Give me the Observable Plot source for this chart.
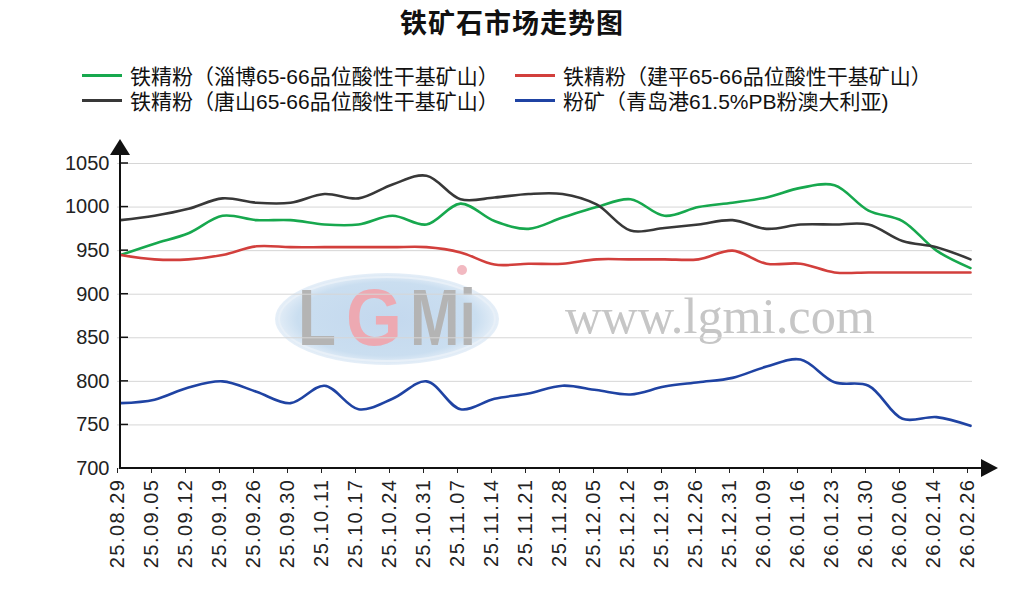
<!DOCTYPE html>
<html><head><meta charset="utf-8">
<script src="https://cdn.jsdelivr.net/npm/d3@7"></script>
<script src="https://cdn.jsdelivr.net/npm/@observablehq/plot@0.6"></script>
<style>
body{margin:0;background:#fff;}
#wrap{position:relative;width:1024px;height:608px;overflow:hidden;background:#fff;font-family:"Liberation Sans",Arial,"Noto Sans CJK SC",sans-serif;}
#head{position:relative;width:1024px;height:130px;}
#title{position:absolute;left:0;width:1024px;top:6px;text-align:center;font-weight:bold;font-size:27px;font-family:"Noto Sans CJK SC",sans-serif;color:#111;line-height:32px;letter-spacing:1px;}
.lg{position:absolute;display:flex;align-items:center;height:24px;font-size:21px;color:#111;white-space:nowrap;font-family:"Liberation Sans",Arial,"Noto Sans CJK SC",sans-serif;}
.sw{width:40px;height:3px;margin-right:8px;}
#chart svg{display:block;}
</style></head>
<body><div id="wrap"><div id="head"><div id="title">铁矿石市场走势图</div><div id="legend"></div></div><div id="chart"></div></div>
<script>
const dates = ["25.08.29","25.09.05","25.09.12","25.09.19","25.09.26","25.09.30","25.10.11","25.10.17","25.10.24","25.10.31","25.11.07","25.11.14","25.11.21","25.11.28","25.12.05","25.12.12","25.12.19","25.12.26","25.12.31","26.01.09","26.01.16","26.01.23","26.01.30","26.02.06","26.02.14","26.02.26"];
const seriesNames = ["铁精粉（淄博65-66品位酸性干基矿山）","铁精粉（建平65-66品位酸性干基矿山）","铁精粉（唐山65-66品位酸性干基矿山）","粉矿（青岛港61.5%PB粉澳大利亚)"];
const seriesColors = ["#17a84e","#d23f3c","#383838","#1f43a3"];
const zibo =     [945,958,970,990,985,985,980,980,990,980,1004,984,975,988,1000,1009,990,1000,1005,1011,1022,1025,996,984,950,930];
const jianping = [945,940,940,945,955,954,954,954,954,954,948,934,935,935,940,940,940,940,950,935,935,925,925,925,925,925];
const tangshan = [985,990,998,1010,1005,1005,1015,1010,1026,1036,1009,1011,1015,1015,1003,973,976,980,985,975,980,980,980,961,954,940];
const qingdao =  [775,779,793,800,788,775,795,768,780,800,768,780,786,795,790,785,794,799,804,817,825,799,795,757,759,749];
const yTicks = [700,750,800,850,900,950,1000,1050];
const seriesValues = [zibo, jianping, tangshan, qingdao];

const data = seriesNames.flatMap((s,k)=>dates.map((d,i)=>({date:d, value:seriesValues[k][i], series:s})));

// legend
const legend = document.getElementById("legend");
const legendPos = [[82,63],[515,63],[82,88],[515,88]];
seriesNames.forEach((s,i)=>{
  const el = document.createElement("div");
  el.className="lg";
  el.style.left = legendPos[i][0]+"px";
  el.style.top = legendPos[i][1]+"px";
  el.innerHTML = `<span class="sw" style="background:${seriesColors[i]}"></span><span>${s}</span>`;
  legend.appendChild(el);
});

const chart = Plot.plot({
  width:1024, height:478,
  marginLeft:117, marginRight:52, marginTop:33, marginBottom:140,
  style:{fontFamily:'"Liberation Sans",Arial,sans-serif', fontSize:"20px", color:"#222", background:"transparent", overflow:"visible"},
  x:{type:"point", domain:dates, padding:0, label:null},
  y:{domain:[700,1050], label:null},
  color:{domain:seriesNames, range:seriesColors},
  marks:[
    Plot.gridY(yTicks,{stroke:"#d6d6d6", strokeOpacity:1, strokeWidth:1}),
    Plot.axisY(yTicks,{tickSize:0, tickPadding:8, label:null, fontSize:20, tickFormat:d=>String(d)}),
    Plot.axisX({tickSize:5, tickPadding:5, tickRotate:-90, label:null, fontSize:20, stroke:"#222", dx:-3}),
    Plot.line(data,{x:"date", y:"value", stroke:"series", strokeWidth:2.6, curve:"catmull-rom"})
  ]
});
document.getElementById("chart").appendChild(chart);

// spacing of rotated date labels
d3.select(chart).selectAll('g[aria-label="x-axis tick label"] text').attr("letter-spacing","1.5px");

// decorations derived from scales
const sx = chart.scale("x"), sy = chart.scale("y");
const x0 = sx.apply(dates[0]), x1 = sx.apply(dates[dates.length-1]);
const yb = sy.apply(700), yt = sy.apply(1050);
const svg = d3.select(chart);

// watermark behind everything
const wm = svg.insert("g", ":first-child").attr("class","watermark").attr("text-anchor","start");
const defs = wm.append("defs");
const rg = defs.append("radialGradient").attr("id","wmg");
rg.append("stop").attr("offset","0%").attr("stop-color","#c3d8ee");
rg.append("stop").attr("offset","80%").attr("stop-color","#cadef0");
rg.append("stop").attr("offset","100%").attr("stop-color","#e6eff8");
wm.append("ellipse").attr("cx",387).attr("cy",189).attr("rx",112).attr("ry",46).attr("fill","url(#wmg)");
wm.append("ellipse").attr("cx",387).attr("cy",189).attr("rx",108).attr("ry",42).attr("fill","none").attr("stroke","#e8f0f8").attr("stroke-width",2);
const logoParts = [["L",298,38,"#b4b4b4"],["G",346,56,"#eda9b2"],["Mi",410,66,"#b4b4b4"]];
logoParts.forEach(([t,x,w,c])=>{
  wm.append("text").attr("x",x).attr("y",215).attr("text-anchor","start").attr("font-family","Liberation Sans, Arial").attr("font-weight","bold").attr("font-size",80).attr("fill",c).attr("textLength",w).attr("lengthAdjust","spacingAndGlyphs").text(t);
});
wm.append("circle").attr("cx",462).attr("cy",140).attr("r",5).attr("fill","#f2b9c1");
wm.append("text").attr("x",565).attr("y",203).attr("text-anchor","start").attr("font-family","Liberation Serif, Times New Roman, serif").attr("font-size",50).attr("fill","#c6c6c6").attr("textLength",310).attr("lengthAdjust","spacingAndGlyphs").text("www.lgmi.com");

const deco = svg.append("g").attr("class","axes-deco");
// y axis line + arrow
deco.append("line").attr("x1",x0).attr("x2",x0).attr("y1",yb+1).attr("y2",yt-8).attr("stroke","#111").attr("stroke-width",2);
deco.append("path").attr("d",`M${x0},${yt-24}L${x0-10},${yt-8}L${x0+10},${yt-8}Z`).attr("fill","#111");
// x axis line + arrow
deco.append("line").attr("x1",x0-1).attr("x2",x1+11).attr("y1",yb).attr("y2",yb).attr("stroke","#111").attr("stroke-width",2);
deco.append("path").attr("d",`M${x1+28},${yb}L${x1+11},${yb-9}L${x1+11},${yb+9}Z`).attr("fill","#111");
// inner y ticks
yTicks.forEach(v=>{
  deco.append("line").attr("x1",x0).attr("x2",x0+8).attr("y1",sy.apply(v)).attr("y2",sy.apply(v)).attr("stroke","#111").attr("stroke-width",1.5);
});
</script>
</body></html>
